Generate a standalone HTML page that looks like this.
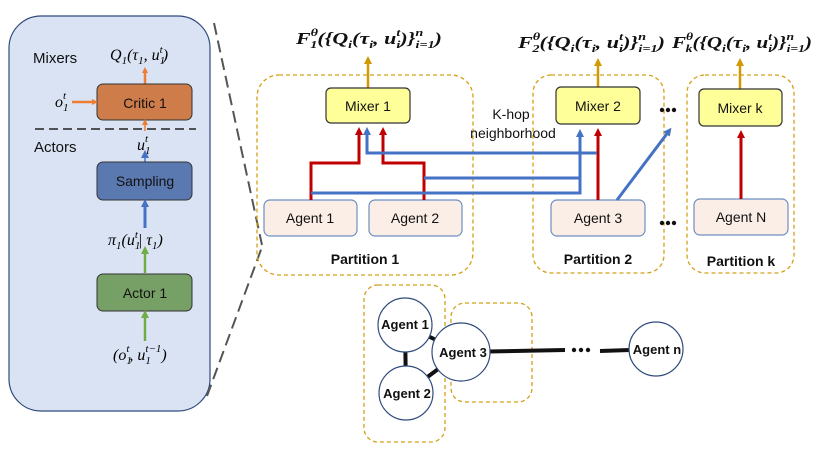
<!DOCTYPE html>
<html><head><meta charset="utf-8"><style>
html,body{margin:0;padding:0;background:#fff;width:830px;height:474px;overflow:hidden}
svg{display:block}
.s{font-family:"Liberation Sans",sans-serif}
.m{font-family:"Liberation Serif",serif;font-style:italic}
</style></head><body>
<svg width="830" height="474" viewBox="0 0 830 474" xmlns="http://www.w3.org/2000/svg">
<defs>
<marker id="ao" markerWidth="6" markerHeight="6" refX="3" refY="3" orient="auto" markerUnits="userSpaceOnUse"><path d="M0,0 L6,3 L0,6 z" fill="#ed7d31"/></marker>
<marker id="ab" markerWidth="8" markerHeight="8" refX="4" refY="4" orient="auto" markerUnits="userSpaceOnUse"><path d="M0,0 L8,4 L0,8 z" fill="#4472c4"/></marker>
<marker id="ag" markerWidth="8" markerHeight="8" refX="4" refY="4" orient="auto" markerUnits="userSpaceOnUse"><path d="M0,0 L8,4 L0,8 z" fill="#70ad47"/></marker>
<marker id="ar" markerWidth="8" markerHeight="8" refX="4" refY="4" orient="auto" markerUnits="userSpaceOnUse"><path d="M0,0 L8,4 L0,8 z" fill="#c00000"/></marker>
<marker id="ay" markerWidth="8" markerHeight="8" refX="4" refY="4" orient="auto" markerUnits="userSpaceOnUse"><path d="M0,0 L8,4 L0,8 z" fill="#d09a00"/></marker>
</defs>
<!-- left panel -->
<rect x="9" y="16" width="201" height="395" rx="32" fill="#dae3f3" stroke="#2f4b7c" stroke-width="1.2"/>
<line x1="214" y1="23" x2="262" y2="245" stroke="#555" stroke-width="2" stroke-dasharray="12,6"/>
<line x1="207" y1="396" x2="262" y2="247" stroke="#555" stroke-width="2" stroke-dasharray="12,6"/>
<text x="33" y="63" class="s" font-size="15" fill="#111">Mixers</text>
<text x="34" y="152" class="s" font-size="15" fill="#111">Actors</text>
<text x="110" y="60" class="m" font-size="16">Q<tspan font-size="11" dy="4">1</tspan><tspan dy="-4">(τ</tspan><tspan font-size="11" dy="4">1</tspan><tspan dy="-4">, u</tspan><tspan font-size="11" dy="4">1</tspan><tspan font-size="11" dx="-5.5" dy="-11">t</tspan><tspan dy="7">)</tspan></text>
<line x1="145" y1="84" x2="145" y2="70" stroke="#ed7d31" stroke-width="2.5" marker-end="url(#ao)"/>
<rect x="97" y="84" width="95" height="36" rx="6" fill="#ce7c4a" stroke="#333" stroke-width="1"/>
<text x="145" y="108" class="s" font-size="14" text-anchor="middle" fill="#111">Critic 1</text>
<text x="55" y="107" class="m" font-size="16">o<tspan font-size="11" dy="4">1</tspan><tspan font-size="11" dx="-5.5" dy="-12">t</tspan></text>
<line x1="72" y1="102" x2="95" y2="102" stroke="#ed7d31" stroke-width="2.5" marker-end="url(#ao)"/>
<line x1="35" y1="129" x2="196" y2="129" stroke="#222" stroke-width="1.5" stroke-dasharray="9,5"/>
<line x1="145" y1="131" x2="145" y2="122" stroke="#ed7d31" stroke-width="1.5" marker-end="url(#ao)"/>
<text x="137" y="150" class="m" font-size="16">u<tspan font-size="11" dy="4">1</tspan><tspan font-size="11" dx="-5.5" dy="-12">t</tspan></text>
<line x1="145" y1="162" x2="145" y2="154" stroke="#4472c4" stroke-width="1.5" marker-end="url(#ab)"/>
<rect x="97" y="162" width="95" height="38" rx="6" fill="#5b79b1" stroke="#333" stroke-width="1"/>
<text x="145" y="186" class="s" font-size="14" text-anchor="middle" fill="#111">Sampling</text>
<line x1="145" y1="228" x2="145" y2="203" stroke="#4472c4" stroke-width="3" marker-end="url(#ab)"/>
<text x="108" y="245" class="m" font-size="16">π<tspan font-size="11" dy="4">1</tspan><tspan dy="-4">(u</tspan><tspan font-size="11" dy="4">1</tspan><tspan font-size="11" dx="-5.5" dy="-11">t</tspan><tspan dy="7">| τ</tspan><tspan font-size="11" dy="4">1</tspan><tspan dy="-4">)</tspan></text>
<line x1="145" y1="273" x2="145" y2="250" stroke="#70ad47" stroke-width="2.5" marker-end="url(#ag)"/>
<rect x="97" y="274" width="95" height="37" rx="6" fill="#77a066" stroke="#333" stroke-width="1"/>
<text x="145" y="298" class="s" font-size="14" text-anchor="middle" fill="#111">Actor 1</text>
<line x1="145" y1="341" x2="145" y2="314" stroke="#70ad47" stroke-width="2.5" marker-end="url(#ag)"/>
<text x="113" y="360" class="m" font-size="16">(o<tspan font-size="11" dy="4">1</tspan><tspan font-size="11" dx="-5.5" dy="-12">t</tspan><tspan dy="8">, u</tspan><tspan font-size="11" dy="4">1</tspan><tspan font-size="11" dx="-5.5" dy="-12">t−1</tspan><tspan dy="8">)</tspan></text>

<!-- partitions -->
<g fill="none" stroke="#d4a017" stroke-width="1.3" stroke-dasharray="4,3">
<rect x="257" y="75" width="216" height="200" rx="22"/>
<rect x="533" y="75" width="131" height="198" rx="18"/>
<rect x="687" y="75" width="107" height="198" rx="18"/>
<rect x="364" y="285" width="81" height="157" rx="14"/>
<rect x="451" y="303" width="81" height="99" rx="14"/>
</g>
<g class="s" font-size="14" font-weight="bold" text-anchor="middle" fill="#111">
<text x="365" y="264">Partition 1</text>
<text x="598" y="264">Partition 2</text>
<text x="741" y="266">Partition k</text>
</g>
<!-- titles -->
<g font-family="Liberation Serif,serif" font-weight="bold" font-style="italic" font-size="17" fill="#111">
<text x="296" y="44" textLength="146" lengthAdjust="spacingAndGlyphs">F<tspan font-size="11" dy="-8">θ</tspan><tspan font-size="11" dx="-6" dy="12">1</tspan><tspan dy="-4">({Q</tspan><tspan font-size="11" dy="4">i</tspan><tspan dy="-4">(τ</tspan><tspan font-size="11" dy="4">i</tspan><tspan dy="-4">, u</tspan><tspan font-size="11" dy="4">i</tspan><tspan font-size="11" dx="-3" dy="-12">t</tspan><tspan dy="8">)}</tspan><tspan font-size="11" dy="-8">n</tspan><tspan font-size="11" dx="-6" dy="12">i=1</tspan><tspan dy="-4">)</tspan></text>
<text x="518" y="48" textLength="147" lengthAdjust="spacingAndGlyphs">F<tspan font-size="11" dy="-8">θ</tspan><tspan font-size="11" dx="-6" dy="12">2</tspan><tspan dy="-4">({Q</tspan><tspan font-size="11" dy="4">i</tspan><tspan dy="-4">(τ</tspan><tspan font-size="11" dy="4">i</tspan><tspan dy="-4">, u</tspan><tspan font-size="11" dy="4">i</tspan><tspan font-size="11" dx="-3" dy="-12">t</tspan><tspan dy="8">)}</tspan><tspan font-size="11" dy="-8">n</tspan><tspan font-size="11" dx="-6" dy="12">i=1</tspan><tspan dy="-4">)</tspan></text>
<text x="672" y="48" textLength="140" lengthAdjust="spacingAndGlyphs">F<tspan font-size="11" dy="-8">θ</tspan><tspan font-size="11" dx="-6" dy="12">k</tspan><tspan dy="-4">({Q</tspan><tspan font-size="11" dy="4">i</tspan><tspan dy="-4">(τ</tspan><tspan font-size="11" dy="4">i</tspan><tspan dy="-4">, u</tspan><tspan font-size="11" dy="4">i</tspan><tspan font-size="11" dx="-3" dy="-12">t</tspan><tspan dy="8">)}</tspan><tspan font-size="11" dy="-8">n</tspan><tspan font-size="11" dx="-6" dy="12">i=1</tspan><tspan dy="-4">)</tspan></text>
</g>
<g stroke="#d09a00" stroke-width="2.5">
<line x1="368" y1="88" x2="368" y2="60" marker-end="url(#ay)"/>
<line x1="598" y1="87" x2="598" y2="62" marker-end="url(#ay)"/>
<line x1="740" y1="89" x2="740" y2="62" marker-end="url(#ay)"/>
</g>
<!-- mixers -->
<g stroke="#333" stroke-width="1.2" fill="#ffff99">
<rect x="326" y="88" width="84" height="35" rx="5"/>
<rect x="556" y="87" width="84" height="37" rx="5"/>
<rect x="699" y="89" width="83" height="37" rx="5"/>
</g>
<g class="s" font-size="14" text-anchor="middle" fill="#111">
<text x="368" y="111">Mixer 1</text>
<text x="598" y="111">Mixer 2</text>
<text x="740" y="113">Mixer k</text>
<text x="511" y="119">K-hop</text>
<text x="513" y="138">neighborhood</text>
</g>
<!-- agents -->
<g stroke="#6d8ebf" stroke-width="1.2" fill="#fbeee6">
<rect x="264" y="200" width="93" height="36" rx="6"/>
<rect x="369" y="200" width="93" height="36" rx="6"/>
<rect x="551" y="200" width="94" height="36" rx="6"/>
<rect x="694" y="199" width="94" height="36" rx="6"/>
</g>
<g class="s" font-size="14" text-anchor="middle" fill="#111">
<text x="310" y="223">Agent 1</text>
<text x="415" y="223">Agent 2</text>
<text x="598" y="223">Agent 3</text>
<text x="741" y="222">Agent N</text>
</g>
<g fill="#111">
<circle cx="662" cy="110" r="2.2"/><circle cx="668" cy="110" r="2.2"/><circle cx="674" cy="110" r="2.2"/>
<circle cx="662" cy="223" r="2.2"/><circle cx="668" cy="223" r="2.2"/><circle cx="674" cy="223" r="2.2"/>
</g>
<!-- connectors -->
<g fill="none" stroke="#c00000" stroke-width="3">
<path d="M311,200 V163 H359 V131" marker-end="url(#ar)"/>
<path d="M424,200 V163 H383 V131" marker-end="url(#ar)"/>
<path d="M598,200 V132" marker-end="url(#ar)"/>
<path d="M741,199 V134" marker-end="url(#ar)"/>
</g>
<g fill="none" stroke="#4472c4" stroke-width="3">
<path d="M597,153 H367 V131" marker-end="url(#ab)"/>
<path d="M424,178 H580"/>
<path d="M311,193 H580 V133" marker-end="url(#ab)"/>
<path d="M617,200 L669,131" marker-end="url(#ab)"/>
</g>
<!-- graph -->
<g stroke="#111" stroke-width="4">
<line x1="405" y1="325" x2="461" y2="352"/>
<line x1="406" y1="393" x2="461" y2="352"/>
<line x1="405" y1="325" x2="406" y2="393"/>
<line x1="461" y1="352" x2="565" y2="350"/>
<line x1="600" y1="351" x2="630" y2="350"/>
</g>
<g fill="#111"><circle cx="574" cy="350" r="2.2"/><circle cx="581" cy="350" r="2.2"/><circle cx="588" cy="350" r="2.2"/></g>
<g fill="#fff" stroke="#2f4b7c" stroke-width="1.2">
<circle cx="405" cy="325" r="27"/>
<circle cx="406" cy="393" r="27"/>
<circle cx="461" cy="352" r="29"/>
<circle cx="656" cy="349" r="27"/>
</g>
<g class="s" font-size="13" font-weight="bold" text-anchor="middle" fill="#111">
<text x="405" y="329">Agent 1</text>
<text x="407" y="398">Agent 2</text>
<text x="463" y="357">Agent 3</text>
<text x="657" y="354">Agent n</text>
</g>
</svg>
</body></html>
